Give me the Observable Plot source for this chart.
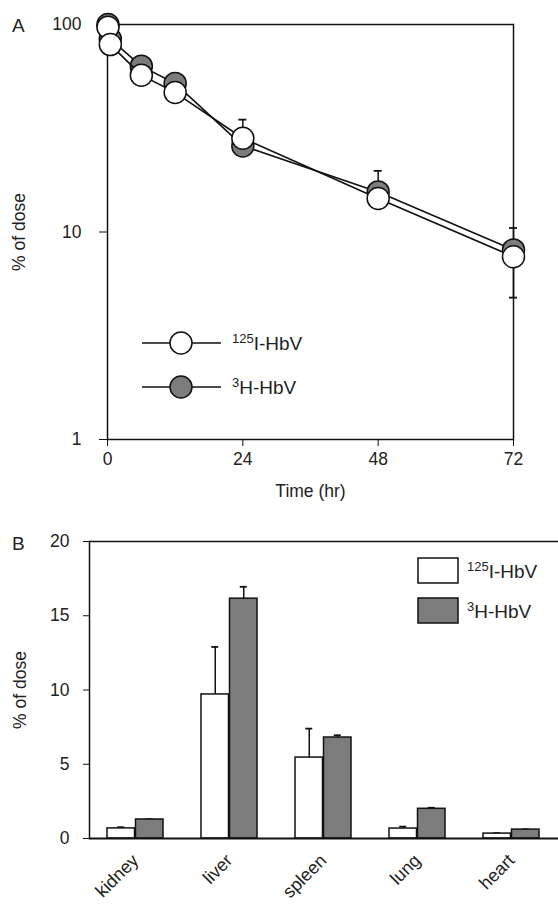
<!DOCTYPE html>
<html><head><meta charset="utf-8">
<script src="https://cdn.jsdelivr.net/npm/d3@7"></script>
<script src="https://cdn.jsdelivr.net/npm/@observablehq/plot@0.6"></script>
<style>
body{margin:0;background:#fff;font-family:"Liberation Sans",Arial,sans-serif;}
#wrap{position:relative;width:558px;height:907px;overflow:hidden;}
#wrap > svg, #wrap > figure{position:absolute;left:0;margin:0;}
#overlay{position:absolute;left:0;top:0;pointer-events:none;}
</style></head><body><div id="wrap"></div>
<script>
// ---------- Panel A data ----------
const times = [0.083, 0.5, 6, 12, 24, 48, 72];
const iodineA = [97, 80, 57, 47, 28.3, 14.5, 7.6];
const tritiumA = [100, 85, 63, 52, 26, 15.6, 8.2];
const iodineErrLo = [null, null, null, null, null, null, 4.8];
const iodineErrHi = [null, null, null, null, 34.6, null, 10.4];
const tritiumErrHi = [null, null, null, null, null, 19.6, null];
const xTicksA = [0, 24, 48, 72];
const yTicksA = [1, 10, 100];

// ---------- Panel B data ----------
const organs = ["kidney", "liver", "spleen", "lung", "heart"];
const iodineB = [0.68, 9.7, 5.45, 0.67, 0.33];
const iodineBErr = [0.76, 12.9, 7.4, 0.8, 0.36];
const tritiumB = [1.28, 16.15, 6.8, 2.0, 0.6];
const tritiumBErr = [1.3, 16.95, 6.95, 2.07, 0.62];
const yTicksB = [0, 5, 10, 15, 20];

const seriesNames = ["125I-HbV", "3H-HbV"];

const INK = "#111";
const GRAY = "#7c7c7c";
const FONT = '"Liberation Sans", Arial, sans-serif';
const FS = 17.5;

const rowsIA = times.map((t, i) => ({t, v: iodineA[i], lo: iodineErrLo[i], hi: iodineErrHi[i]}));
const rowsTA = times.map((t, i) => ({t, v: tritiumA[i], hi: tritiumErrHi[i]}));
const errIHi = rowsIA.filter(d => d.hi != null);
const errILo = rowsIA.filter(d => d.lo != null);
const errTHi = rowsTA.filter(d => d.hi != null);

const styleCommon = {fontFamily: FONT, fontSize: FS + "px", color: "#222", background: "transparent", overflow: "visible"};

const plotA = Plot.plot({
  width: 558, height: 500,
  marginTop: 24, marginBottom: 61, marginLeft: 107, marginRight: 45,
  style: styleCommon,
  x: {type: "linear", domain: [0, 72]},
  y: {type: "log", domain: [1, 100]},
  marks: [
    Plot.frame({stroke: INK, strokeWidth: 1.5}),
    Plot.axisX({ticks: xTicksA, tickSize: 7, tickPadding: 6, tickFormat: d3.format("d"), fontSize: FS,
      label: "Time (hr)", labelAnchor: "center", labelArrow: "none", labelOffset: 57, stroke: INK}),
    Plot.axisY({ticks: yTicksA, tickSize: 8, tickPadding: 18, tickFormat: d3.format("d"), fontSize: FS,
      label: "% of dose", labelAnchor: "center", labelArrow: "none", labelOffset: 95, stroke: INK}),
    // error bars (stems)
    Plot.ruleX(errTHi, {x: "t", y1: "v", y2: "hi", stroke: INK, strokeWidth: 1.5}),
    Plot.ruleX(errIHi, {x: "t", y1: "v", y2: "hi", stroke: INK, strokeWidth: 1.5}),
    Plot.ruleX(errILo, {x: "t", y1: "v", y2: "lo", stroke: INK, strokeWidth: 1.5}),
    Plot.line(rowsTA, {x: "t", y: "v", stroke: INK, strokeWidth: 1.6}),
    Plot.dot(rowsTA, {x: "t", y: "v", r: 11, fill: GRAY, stroke: INK, strokeWidth: 1.5}),
    Plot.line(rowsIA, {x: "t", y: "v", stroke: INK, strokeWidth: 1.6}),
    Plot.dot(rowsIA, {x: "t", y: "v", r: 11, fill: "white", stroke: INK, strokeWidth: 1.5})
  ]
});

const rowsIB = organs.map((o, i) => ({organ: o, v: iodineB[i], hi: iodineBErr[i]}));
const rowsTB = organs.map((o, i) => ({organ: o, v: tritiumB[i], hi: tritiumBErr[i]}));

const half = 28.5;
const plotB = Plot.plot({
  width: 558, height: 407,
  marginTop: 41, marginBottom: 69, marginLeft: 89, marginRight: 0,
  style: styleCommon,
  x: {domain: organs, paddingInner: 0.4, paddingOuter: 0.17},
  y: {domain: [0, 20]},
  marks: [
    Plot.ruleY([20], {stroke: INK, strokeWidth: 1.5}),
    Plot.frame({anchor: "left", stroke: INK, strokeWidth: 1.5}),
    Plot.axisY({ticks: yTicksB, tickSize: 6, tickPadding: 14, tickFormat: d3.format("d"), fontSize: FS,
      label: "% of dose", labelAnchor: "center", labelArrow: "none", labelOffset: 76, stroke: INK}),
    Plot.axisX({tickSize: 0, tickRotate: -45, tickPadding: 19, label: null, fontSize: 18}),
    Plot.ruleX(rowsIB, {x: "organ", y1: "v", y2: "hi", dx: -half / 2, stroke: INK, strokeWidth: 1.5}),
    Plot.tickY(rowsIB, {x: "organ", y: "hi", dx: -half / 2, insetLeft: 24.5, insetRight: 24.5, stroke: INK, strokeWidth: 1.8}),
    Plot.ruleX(rowsTB, {x: "organ", y1: "v", y2: "hi", dx: half / 2, stroke: INK, strokeWidth: 1.5}),
    Plot.tickY(rowsTB, {x: "organ", y: "hi", dx: half / 2, insetLeft: 24.5, insetRight: 24.5, stroke: INK, strokeWidth: 1.8}),
    Plot.barY(rowsIB, {x: "organ", y: "v", fill: "white", stroke: INK, strokeWidth: 1.5, insetRight: half}),
    Plot.barY(rowsTB, {x: "organ", y: "v", fill: GRAY, stroke: INK, strokeWidth: 1.5, insetLeft: half}),
    Plot.ruleY([0], {stroke: INK, strokeWidth: 1.8})
  ]
});

const wrap = document.getElementById("wrap");
plotA.style.top = "0px";
plotB.style.top = "500px";
wrap.appendChild(plotA);
wrap.appendChild(plotB);

// caps for panel A error bars, placed with plotA's own scales
const sx = plotA.scale("x"), sy = plotA.scale("y");
const ns = "http://www.w3.org/2000/svg";
const capsA = [...errIHi.map(d => [d.t, d.hi]), ...errILo.map(d => [d.t, d.lo]), ...errTHi.map(d => [d.t, d.hi])];
const gCaps = document.createElementNS(ns, "g");
for (const [t, v] of capsA) {
  const X = sx.apply(t), Y = sy.apply(v);
  const l = document.createElementNS(ns, "line");
  l.setAttribute("x1", X - 4); l.setAttribute("x2", X + 4);
  l.setAttribute("y1", Y); l.setAttribute("y2", Y);
  l.setAttribute("stroke", INK); l.setAttribute("stroke-width", 1.8);
  gCaps.appendChild(l);
}
plotA.appendChild(gCaps);

// overlay: panel letters and legends
const ov = document.createElementNS(ns, "svg");
ov.setAttribute("id", "overlay");
ov.setAttribute("width", 558); ov.setAttribute("height", 907);
ov.style.fontFamily = FONT;
function txt(x, y, s, size = FS) {
  const t = document.createElementNS(ns, "text");
  t.setAttribute("x", x); t.setAttribute("y", y);
  t.setAttribute("font-size", size); t.setAttribute("fill", "#222");
  t.textContent = s; ov.appendChild(t); return t;
}
function supTxt(x, y, name) {
  const m = name.match(/^(\d+)(.*)$/);
  const t = document.createElementNS(ns, "text");
  t.setAttribute("x", x); t.setAttribute("y", y);
  t.setAttribute("font-size", 19); t.setAttribute("fill", "#222");
  const s1 = document.createElementNS(ns, "tspan");
  s1.setAttribute("font-size", 13); s1.setAttribute("dy", -7); s1.textContent = m[1];
  const s2 = document.createElementNS(ns, "tspan");
  s2.setAttribute("dy", 7); s2.textContent = m[2];
  t.appendChild(s1); t.appendChild(s2); ov.appendChild(t);
}
function el(tag, attrs) {
  const e = document.createElementNS(ns, tag);
  for (const k in attrs) e.setAttribute(k, attrs[k]);
  ov.appendChild(e); return e;
}
txt(12, 32, "A", 19);
txt(12, 550, "B", 19);
// Panel A legend
[[343, "white"], [387, GRAY]].forEach(([y, f], i) => {
  el("line", {x1: 142, x2: 221, y1: y, y2: y, stroke: INK, "stroke-width": 1.6});
  el("circle", {cx: 181, cy: y, r: 11, fill: f, stroke: INK, "stroke-width": 1.5});
  supTxt(232, y + 7, seriesNames[i]);
});
// Panel B legend
[[558, "white"], [598, GRAY]].forEach(([y, f], i) => {
  el("rect", {x: 418, y: y, width: 40, height: 25, fill: f, stroke: INK, "stroke-width": 1.5});
  supTxt(467, y + 20, seriesNames[i]);
});
wrap.appendChild(ov);
</script>
</body></html>
